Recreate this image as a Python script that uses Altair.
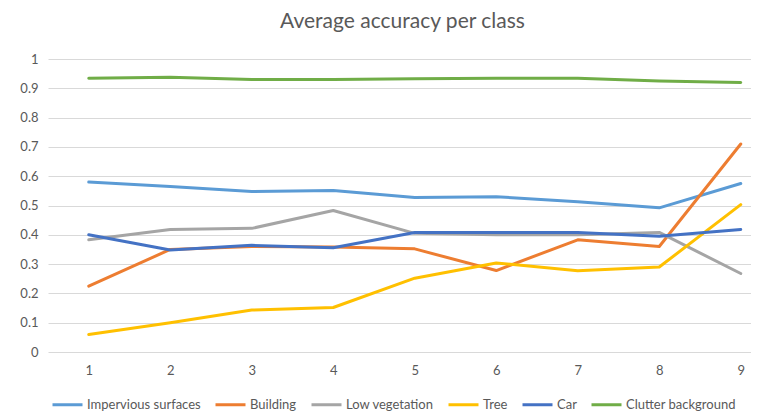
import altair as alt
import pandas as pd

runs = [1, 2, 3, 4, 5, 6, 7, 8, 9]
series_names = ["Impervious surfaces", "Building", "Low vegetation", "Tree", "Car", "Clutter background"]
impervious = [0.580, 0.565, 0.548, 0.551, 0.527, 0.530, 0.513, 0.492, 0.575]
building = [0.225, 0.350, 0.360, 0.358, 0.352, 0.278, 0.383, 0.360, 0.710]
low_veg = [0.383, 0.418, 0.422, 0.483, 0.405, 0.400, 0.400, 0.408, 0.268]
tree = [0.060, 0.100, 0.143, 0.152, 0.252, 0.304, 0.277, 0.290, 0.503]
car = [0.400, 0.348, 0.364, 0.356, 0.408, 0.408, 0.408, 0.395, 0.418]
clutter = [0.934, 0.938, 0.930, 0.930, 0.933, 0.934, 0.934, 0.925, 0.920]
colors = ["#5B9BD5", "#ED7D31", "#A5A5A5", "#FFC000", "#4472C4", "#70AD47"]

all_vals = [impervious, building, low_veg, tree, car, clutter]
rows = []
for i, (name, vals) in enumerate(zip(series_names, all_vals)):
    for r, v in zip(runs, vals):
        rows.append({"run": r, "value": v, "series": name, "order": i})
df = pd.DataFrame(rows)

FONT = "Lato"
TXT = "#595959"

chart = (
    alt.Chart(df)
    .mark_line(strokeWidth=3, strokeCap="round", strokeJoin="round", clip=False)
    .encode(
        x=alt.X(
            "run:Q",
            scale=alt.Scale(domain=[0.5, 9.5], range=[0, 733.5], nice=False, zero=False),
            axis=alt.Axis(
                values=runs, format="d", title=None, grid=False, ticks=False,
                domain=False, labelFontSize=13, labelColor=TXT, labelFont=FONT,
                labelPadding=12,
            ),
        ),
        y=alt.Y(
            "value:Q",
            scale=alt.Scale(domain=[0, 1], nice=False),
            axis=alt.Axis(
                values=[0, 0.1, 0.2, 0.3, 0.4, 0.5, 0.6, 0.7, 0.8, 0.9, 1],
                format="~g", title=None, ticks=False, domain=False,
                gridColor="#D9D9D9", gridWidth=1, labelFontSize=13,
                labelColor=TXT, labelFont=FONT, labelPadding=10,
            ),
        ),
        color=alt.Color(
            "series:N",
            sort=series_names,
            scale=alt.Scale(domain=series_names, range=colors),
            legend=alt.Legend(
                title=None, orient="none", direction="horizontal",
                legendX=3, legendY=329, symbolType="stroke",
                symbolSize=900, symbolStrokeWidth=3, labelFontSize=13,
                labelColor=TXT, labelFont=FONT, columnPadding=8,
                labelOffset=3, padding=0,
            ),
        ),
        order=alt.Order("order:Q"),
    )
    .properties(
        width=703,
        height=293,
        title=alt.Title(
            "Average accuracy per class", fontSize=21, font=FONT,
            color=TXT, fontWeight="normal", offset=21, dx=3,
        ),
        padding={"left": 40, "top": 51, "right": 0, "bottom": 60},
        autosize=alt.AutoSizeParams(type="none"),
    )
    .configure_view(stroke=None)
)

chart.save("out.html", embed_options={"renderer": "svg", "actions": False})
